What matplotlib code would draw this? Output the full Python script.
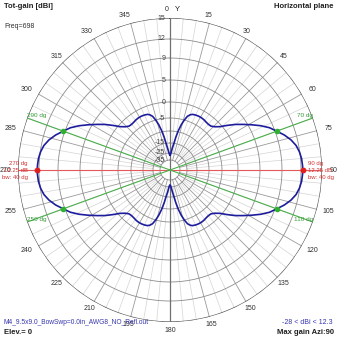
import numpy as np
import matplotlib
matplotlib.use('Agg')
from matplotlib import pyplot as plt

plt.rcParams['font.family'] = ['Liberation Sans', 'DejaVu Sans']

quad_azi = [0, 2, 4, 6, 8, 10, 12, 14, 16, 18, 20, 22, 25, 28, 31, 34, 37, 40, 43, 46,
            49, 52, 55, 58, 61, 64, 67, 70, 73, 76, 79, 82, 85, 88, 90]
quad_gain = [-28, -27, -24, -20, -16, -12.5, -9.5, -7, -5, -3.6, -2.9, -2.5, -2.3, -2.2, -2.2,
             -2.3, -2.5, -2.6, -2.5, -1.8, -0.6, 1.0, 2.6, 4.1, 5.6, 7.0, 8.3, 9.25, 10.2, 11.0,
             11.6, 11.95, 12.15, 12.23, 12.25]

# markers
max_azi = [90, 270]
max_gain = 12.25
bw_azi = [70, 110, 250, 290]
bw_gain = 9.25

# grid
grid_db = [15, 12, 9, 5, 0, -5, -10, -15, -25, -35]
grid_lbl = ['15', '12', '9', '5', '0', '-5', '', '-15', '-25', '-35']
angle_ticks = list(range(0, 360, 15))

# non linear radial scale of the plot (dB -> pixels from centre, outer ring = 152)
scale_db = [-50, -35, -25, -15, -10, -5, 0, 5, 9, 12, 15]
scale_px = [0, 10, 17, 27, 39, 52, 68, 90, 112, 131, 152]


def rad(db):
    return np.interp(db, scale_db, scale_px) / 152.0


# full pattern from the quadrant
q_a = np.array(quad_azi, float)
q_g = np.array(quad_gain, float)
azi = np.concatenate([q_a, 180 - q_a[::-1], 180 + q_a, 360 - q_a[::-1]])
gain = np.concatenate([q_g, q_g[::-1], q_g, q_g[::-1]])

W = 339
fig = plt.figure(figsize=(3.39, 3.39), dpi=100)
cx, cy, R = 170, 170, 152
ax = fig.add_axes([(cx - R) / W, (W - cy - R) / W, 2 * R / W, 2 * R / W], projection='polar')
ax.set_theta_zero_location('N')
ax.set_theta_direction(-1)
ax.set_ylim(0, 1)
ax.set_axis_off()

th = np.linspace(0, 2 * np.pi, 361)
fs = 5

# circles
for db, lbl in zip(grid_db, grid_lbl):
    if db == 15:
        ax.plot(th, np.full_like(th, 1.0), color='#505050', lw=0.9, zorder=2)
    else:
        ax.plot(th, np.full_like(th, rad(db)), color='#8c8c8c', lw=0.6, zorder=2)

# radial lines
for a in range(0, 360, 5):
    t = np.radians(a)
    if a % 15 == 0:
        ax.plot([t, t], [rad(-35), 1], color='#9a9a9a', lw=0.6, zorder=1)
    else:
        ax.plot([t, t], [rad(-25), 1], color='#d4d4d4', lw=0.5, zorder=1)
ax.plot([0, np.pi], [1, 1], color='#707070', lw=0.9, zorder=2)

# dB labels on vertical axis
for db, lbl in zip(grid_db, grid_lbl):
    if lbl:
        ax.annotate(lbl, (0, rad(db)), xytext=(-3.5, 0), textcoords='offset points',
                    ha='right', va='center', fontsize=fs, color='#404040', zorder=3)

# angle labels
for a in angle_ticks:
    t = np.radians(a)
    dx = 0
    if a < 45 or a > 315:
        dx = -2.5
    elif 45 < a < 135:
        dx = 2.5
    elif 225 < a < 315:
        dx = -3
    ax.annotate(str(a), (t, 1.055), xytext=(dx, 0), textcoords='offset points',
                ha='center', va='center', fontsize=fs, color='#303030', annotation_clip=False)
ax.annotate('Y', (0, 1.055), xytext=(5, 0), textcoords='offset points',
            ha='center', va='center', fontsize=fs + 0.5, color='#202020', annotation_clip=False)

# max gain line and beamwidth lines
red = '#e05a5a'
green = '#4caf4c'
ax.plot([np.radians(90), np.radians(270)], [1, 1], color=red, lw=0.8, zorder=3)
ax.plot([np.radians(70), np.radians(250)], [1, 1], color=green, lw=0.8, zorder=3)
ax.plot([np.radians(110), np.radians(290)], [1, 1], color=green, lw=0.8, zorder=3)

# pattern
ax.plot(np.radians(azi), rad(gain), color='#1c1c9c', lw=1.2, zorder=5)
ax.plot(np.radians(max_azi), rad(np.full(len(max_azi), max_gain)), 'o', color='#e02020',
        ms=3.2, zorder=6)
ax.plot(np.radians(bw_azi), rad(np.full(len(bw_azi), bw_gain)), 'o', color='#30b030',
        ms=3, zorder=6)

# labels for marker lines
for a in bw_azi:
    ha = 'right' if a < 180 else 'left'
    ax.text(np.radians(a), 1.0, '%d dg' % a, ha=ha, va='bottom', fontsize=4.6,
            color='#3a9a3a', zorder=7)
ax.text(np.radians(90), 0.905, '90 dg\n12.25 dB\nbw: 40 dg', ha='left', va='center',
        fontsize=4.3, color='#d03030', linespacing=1.5, zorder=7)
ax.text(np.radians(270), 0.935, '270 dg\n12.25 dB\nbw: 40 dg', ha='right', va='center',
        fontsize=4.3, color='#d03030', linespacing=1.5, zorder=7)

# corner texts
fig.text(4 / W, 1 - 6 / W, 'Tot-gain [dBi]', ha='left', va='center', fontsize=5.5,
         fontweight='bold', color='#202020')
fig.text(4 / W, 1 - 26 / W, 'Freq=698', ha='left', va='center', fontsize=5, color='#303030')
fig.text(334 / W, 1 - 6 / W, 'Horizontal plane', ha='right', va='center', fontsize=5.5,
         fontweight='bold', color='#202020')
fig.text(4 / W, 1 - 323 / W, 'M4_9.5x9.0_BowSwp=0.0in_AWG8_NO_Refl.out', ha='left',
         va='center', fontsize=4.8, color='#3535b0')
fig.text(4 / W, 1 - 333 / W, 'Elev.= 0', ha='left', va='center', fontsize=5.5,
         fontweight='bold', color='#202020')
fig.text(333 / W, 1 - 323 / W, '-28 < dBi < 12.3', ha='right', va='center', fontsize=5,
         color='#3535b0')
fig.text(334 / W, 1 - 333 / W, 'Max gain Azi:90', ha='right', va='center', fontsize=5.5,
         fontweight='bold', color='#202020')

fig.savefig('out.png', dpi=100)
